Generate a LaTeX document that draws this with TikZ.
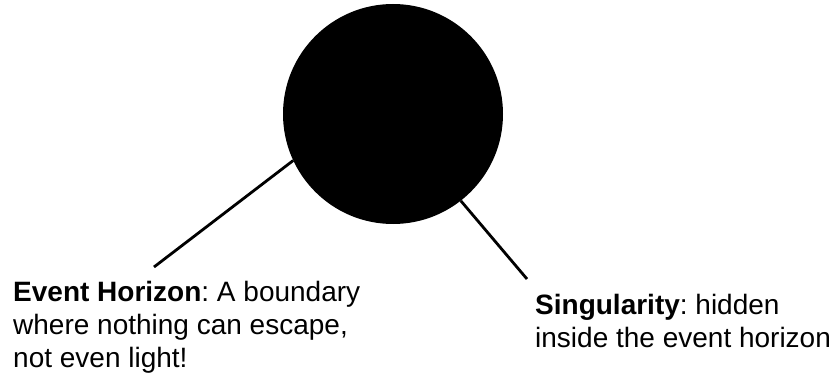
\documentclass[tikz,border=0pt]{standalone}
\usepackage{fontspec}
\setmainfont{Liberation Sans}
\frenchspacing
\begin{document}
\begin{tikzpicture}[x=1pt,y=-1pt,
  lbl/.style={font=\fontsize{28}{33}\selectfont, align=left, inner sep=0pt, anchor=north west},
  conn/.style={line width=2.8pt}]
\useasboundingbox (0,0) rectangle (836,377);
\node[circle, fill=black, minimum size=220pt, inner sep=0pt] (bh) at (393,114) {};
\coordinate (e1) at (154,267);
\coordinate (e2) at (527,279);
\draw[conn] (e1) -- (bh.205.6);
\draw[conn] (bh.308.7) -- (e2);
\node[lbl] (eh) at (13,281.5) {\textbf{Event Horizon}: A boundary\\where nothing can escape,\\not even light!};
\node[lbl] (sg) at (535,294.5) {\textbf{Singularity}: hidden\\inside the event horizon};
\end{tikzpicture}
\end{document}
